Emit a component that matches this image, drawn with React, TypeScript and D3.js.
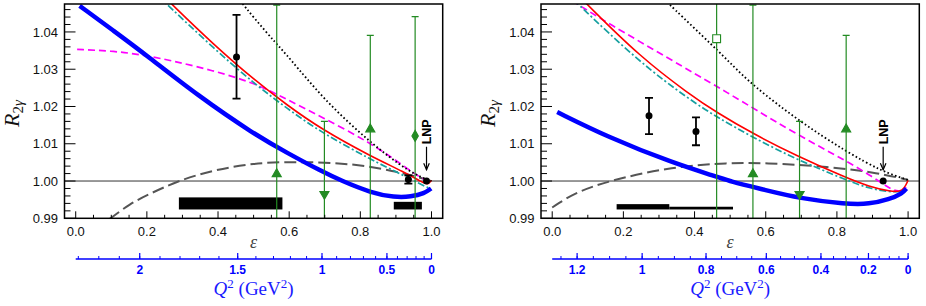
import React from 'react'
import * as d3 from 'd3'

type Pt = [number, number]
type Marker = 'up' | 'down' | 'diamond' | 'square'

const W = 926
const H = 306
const TOP = 4
const BOTTOM = 218.3
const Q2_AXIS_Y = 259

// axes
const epsRange: [number, number] = [-0.0315, 1.0315]
const rRange: [number, number] = [0.99, 1.0475]
const epsTicks = [0, 0.2, 0.4, 0.6, 0.8, 1.0]
const epsTickLabels = ['0.0', '0.2', '0.4', '0.6', '0.8', '1.0']
const rTicks = [0.99, 1.0, 1.01, 1.02, 1.03, 1.04]
const rTickLabels = ['0.99', '1.00', '1.01', '1.02', '1.03', '1.04']

// Q2 axis: beam energy (GeV) fixes eps <-> Q2
const leftBeamE = 1.595
const rightBeamE = 1.0
const leftQ2Ticks = [0, 0.5, 1, 1.5, 2]
const leftQ2Labels = ['0', '0.5', '1', '1.5', '2']
const rightQ2Ticks = [0, 0.2, 0.4, 0.6, 0.8, 1, 1.2]
const rightQ2Labels = ['0', '0.2', '0.4', '0.6', '0.8', '1', '1.2']

// ---- left panel curves [eps, R] ----
const leftBlue: Pt[] = [
  [0.011, 1.047], [0.107, 1.0403], [0.201, 1.0336], [0.342, 1.023], [0.501, 1.0126],
  [0.595, 1.0075], [0.689, 1.0027], [0.746, 1.0001], [0.83, 0.99685], [0.896, 0.9956],
  [0.943, 0.99577], [0.98, 0.99668], [0.999, 0.998],
]
const leftMagenta: Pt[] = [
  [0.004, 1.0353], [0.107, 1.0349], [0.201, 1.0337], [0.342, 1.0308], [0.501, 1.0265],
  [0.595, 1.0218], [0.689, 1.0173], [0.83, 1.0102], [0.924, 1.0039], [0.971, 1.0007],
  [0.995, 1.0],
]
const leftRed: Pt[] = [
  [0.245, 1.0499], [0.267, 1.0477], [0.389, 1.0365], [0.501, 1.0272], [0.595, 1.0203],
  [0.689, 1.014], [0.83, 1.0066], [0.924, 1.0024], [0.975, 0.9996], [0.99, 0.999],
  [1.0, 1.0002],
]
const leftCyan: Pt[] = [
  [0.232, 1.0497], [0.253, 1.0477], [0.389, 1.0355], [0.501, 1.0262], [0.595, 1.0194],
  [0.689, 1.0131], [0.83, 1.0057], [0.924, 1.0014], [0.98, 0.9986], [0.993, 0.9981],
]
const leftDotted: Pt[] = [
  [0.455, 1.0492], [0.501, 1.0438], [0.565, 1.0367], [0.595, 1.0337], [0.697, 1.0219],
  [0.825, 1.0105], [0.941, 1.0021], [1.0, 1.0],
]
const leftGray: Pt[] = [
  [0.095, 0.9898], [0.154, 0.994], [0.201, 0.99623], [0.285, 1.0], [0.389, 1.003],
  [0.501, 1.0048], [0.603, 1.0052], [0.783, 1.0048], [0.924, 1.0021], [0.99, 1.0003],
]

// ---- right panel curves [eps, R] ----
const rightBlue: Pt[] = [
  [0.014, 1.0185], [0.154, 1.0119], [0.34, 1.0048], [0.462, 1.0012], [0.499, 0.9999],
  [0.592, 0.99776], [0.695, 0.99534], [0.826, 0.9938], [0.891, 0.9938], [0.947, 0.99507],
  [0.984, 0.99668], [0.995, 0.998],
]
const rightMagenta: Pt[] = [
  [0.055, 1.0484], [0.067, 1.0477], [0.154, 1.0425], [0.34, 1.0322], [0.462, 1.0254],
  [0.499, 1.0233], [0.564, 1.0196], [0.686, 1.0126], [0.826, 1.0054], [0.9, 1.0012],
  [0.956, 0.99739], [0.98, 0.9972], [0.995, 0.9983],
]
const rightRed: Pt[] = [
  [0.085, 1.0487], [0.095, 1.0477], [0.247, 1.0333], [0.387, 1.0232], [0.462, 1.0184],
  [0.564, 1.0127], [0.686, 1.0068], [0.826, 1.0009], [0.891, 0.9985], [0.95, 0.9972],
  [0.985, 0.997], [1.0, 1.0002],
]
const rightCyan: Pt[] = [
  [0.06, 1.0486], [0.07, 1.0477], [0.247, 1.0317], [0.387, 1.0218], [0.462, 1.0172],
  [0.564, 1.0117], [0.686, 1.0058], [0.826, 1.0003], [0.891, 0.9979], [0.966, 0.99685],
  [0.993, 0.9975],
]
const rightDotted: Pt[] = [
  [0.315, 1.0487], [0.326, 1.0477], [0.462, 1.0353], [0.499, 1.0318], [0.564, 1.0256],
  [0.695, 1.016], [0.826, 1.0079], [0.928, 1.0025], [1.0, 1.0003],
]
const rightGray: Pt[] = [
  [0.0, 0.9929], [0.06, 0.99668], [0.154, 1.0], [0.34, 1.0039], [0.499, 1.0049],
  [0.592, 1.0049], [0.779, 1.0039], [0.919, 1.0021], [1.0, 1.0003],
]

// ---- data points ----
const leftBlack = [
  { eps: 0.452, r: 1.0333, lo: 1.0221, hi: 1.0446 },
  { eps: 0.935, r: 1.0004, lo: 0.9993, hi: 1.0015 },
]
const leftLnp = { eps: 0.986, r: 1.0 }
const rightBlack = [
  { eps: 0.272, r: 1.0175, lo: 1.0126, hi: 1.0223 },
  { eps: 0.404, r: 1.0133, lo: 1.0096, hi: 1.0171 },
]
const rightLnp = { eps: 0.93, r: 1.0 }

const leftGreen: { eps: number; r: number; err: number; m: Marker }[] = [
  { eps: 0.565, r: 1.0019, err: 0.0453, m: 'up' },
  { eps: 0.699, r: 0.9965, err: 0.0195, m: 'down' },
  { eps: 0.828, r: 1.0139, err: 0.0252, m: 'up' },
  { eps: 0.954, r: 1.0121, err: 0.032, m: 'diamond' },
]
const rightGreen: { eps: number; r: number; err: number; m: Marker }[] = [
  { eps: 0.462, r: 1.0382, err: 0.06, m: 'square' },
  { eps: 0.564, r: 1.0019, err: 0.0453, m: 'up' },
  { eps: 0.695, r: 0.9965, err: 0.0195, m: 'down' },
  { eps: 0.826, r: 1.0139, err: 0.0252, m: 'up' },
]

// systematic boxes
const leftSys = [
  { e0: 0.29, e1: 0.581, r0: 0.99237, r1: 0.99561 },
  { e0: 0.894, e1: 0.973, r0: 0.99237, r1: 0.99442 },
]
const rightSys = [
  { e0: 0.181, e1: 0.329, r0: 0.99237, r1: 0.9938 },
  { e0: 0.329, e1: 0.508, r0: 0.99237, r1: 0.9931 },
]

const styles: Record<string, { stroke: string; width: number; dash?: string }> = {
  gray: { stroke: '#555', width: 2, dash: '12 5' },
  magenta: { stroke: '#ff00ff', width: 1.7, dash: '7 4' },
  cyan: { stroke: '#17a0a0', width: 1.7, dash: '7 2.5 2 2.5' },
  red: { stroke: '#ff0000', width: 1.6 },
  dotted: { stroke: '#000', width: 1.8, dash: '1.6 2.4' },
  blue: { stroke: '#0000ff', width: 4.5 },
}

const GREEN = '#238b23'
const BLUE = '#0000ff'
const SANS = '"Liberation Sans", Arial, sans-serif'
const SERIF = '"Liberation Serif", "Times New Roman", serif'
const M_P = 0.938272

// eps for a given Q2 at fixed beam energy
function epsOf(q2: number, E: number) {
  if (q2 <= 0) return 1
  const Ep = E - q2 / (2 * M_P)
  const s2 = q2 / (4 * E * Ep)
  if (Ep <= 0 || s2 >= 1) return NaN
  const t2 = s2 / (1 - s2)
  const tau = q2 / (4 * M_P * M_P)
  return 1 / (1 + 2 * (1 + tau) * t2)
}

function Panel(props: any) {
  const { id, x0, x1, beamE, q2Ticks, q2Labels, q2Max, q2Step, curves, black, lnp, green, sys } = props
  const x = d3.scaleLinear().domain(epsRange).range([x0, x1])
  const y = d3.scaleLinear().domain(rRange).range([BOTTOM, TOP])
  const line = d3.line<Pt>().x(d => x(d[0])).y(d => y(d[1])).curve(d3.curveBasis)

  const rMinor = d3.range(0.99, 1.0475, 0.002).filter(v => !rTicks.some(t => Math.abs(t - v) < 1e-6))
  const epsMinor = d3.range(0, 1.0001, 0.05).filter(v => !epsTicks.some(t => Math.abs(t - v) < 1e-6))
  const q2Minor = d3.range(0, q2Max + 1e-6, q2Step).map(q => epsOf(q, beamE)).filter(e => !isNaN(e) && e >= 0)

  const sym = (m: Marker) => {
    if (m === 'diamond') return d3.symbol().type(d3.symbolDiamond).size(36)()
    if (m === 'square') return d3.symbol().type(d3.symbolSquare).size(62)()
    return d3.symbol().type(d3.symbolTriangle).size(36)()
  }

  const lnpX = x(lnp.eps)
  const arrowTop = y(1.0092)
  const arrowBot = y(1.003)
  const labelX = x0 - 46
  const midY = 113.5

  return (
    <g>
      <defs>
        <clipPath id={id}>
          <rect x={x0} y={TOP} width={x1 - x0} height={BOTTOM - TOP} />
        </clipPath>
      </defs>
      <g clipPath={`url(#${id})`}>
        <line x1={x0} x2={x1} y1={y(1)} y2={y(1)} stroke="#333" strokeWidth={1} />
        {sys.map((b: any, i: number) => (
          <rect key={i} x={x(b.e0)} y={y(b.r1)} width={x(b.e1) - x(b.e0)} height={y(b.r0) - y(b.r1)} fill="#000" />
        ))}
        {curves.map((c: any) => {
          const s = styles[c.style]
          return (
            <path key={c.style} d={line(c.data) || ''} fill="none" stroke={s.stroke}
              strokeWidth={s.width} strokeDasharray={s.dash} />
          )
        })}
        {green.map((g: any, i: number) => {
          const gx = x(g.eps)
          const yt = y(g.r + g.err)
          const yb = y(g.r - g.err)
          return (
            <g key={i}>
              <line x1={gx} x2={gx} y1={yt} y2={yb} stroke={GREEN} strokeWidth={1.2} />
              <line x1={gx - 3.5} x2={gx + 3.5} y1={yt} y2={yt} stroke={GREEN} strokeWidth={1.2} />
              <line x1={gx - 3.5} x2={gx + 3.5} y1={yb} y2={yb} stroke={GREEN} strokeWidth={1.2} />
              <path d={sym(g.m) || ''}
                transform={`translate(${gx},${y(g.r)})${g.m === 'down' ? ' rotate(180)' : ''}`}
                fill={g.m === 'square' ? '#fff' : GREEN} stroke={GREEN} strokeWidth={1.1} />
            </g>
          )
        })}
        {black.map((p: any, i: number) => {
          const px = x(p.eps)
          return (
            <g key={i} stroke="#000" strokeWidth={1.8}>
              <line x1={px} x2={px} y1={y(p.hi)} y2={y(p.lo)} />
              <line x1={px - 4} x2={px + 4} y1={y(p.hi)} y2={y(p.hi)} />
              <line x1={px - 4} x2={px + 4} y1={y(p.lo)} y2={y(p.lo)} />
              <circle cx={px} cy={y(p.r)} r={3.5} fill="#000" stroke="none" />
            </g>
          )
        })}
        <circle cx={lnpX} cy={y(lnp.r)} r={3.5} fill="#000" />
      </g>

      {/* LNP annotation */}
      <line x1={lnpX} x2={lnpX} y1={arrowTop} y2={arrowBot} stroke="#000" strokeWidth={1.2} />
      <path d={`M${lnpX - 2.8},${arrowBot - 6.5} L${lnpX},${arrowBot} L${lnpX + 2.8},${arrowBot - 6.5}`}
        fill="none" stroke="#000" strokeWidth={1.2} />
      <text x={lnpX + 4.5} y={y(1.0132)} transform={`rotate(-90,${lnpX + 4.5},${y(1.0132)})`}
        textAnchor="middle" fontFamily={SANS} fontWeight="bold" fontSize={12.5} fill="#000">LNP</text>

      {/* frame */}
      <rect x={x0} y={TOP} width={x1 - x0} height={BOTTOM - TOP} fill="none" stroke="#000" strokeWidth={1.5} />

      {/* y ticks */}
      {rTicks.map((t, i) => (
        <g key={i}>
          <line x1={x0} x2={x0 + 11} y1={y(t)} y2={y(t)} stroke="#000" strokeWidth={1} />
          <text x={x0 - 6.5} y={y(t)} dy="0.36em" textAnchor="end" fontFamily={SANS} fontSize={13} fill="#111">
            {rTickLabels[i]}
          </text>
        </g>
      ))}
      {rMinor.map((t, i) => (
        <line key={i} x1={x0} x2={x0 + 6} y1={y(t)} y2={y(t)} stroke="#000" strokeWidth={1} />
      ))}

      {/* x ticks */}
      {epsTicks.map((t, i) => (
        <g key={i}>
          <line x1={x(t)} x2={x(t)} y1={BOTTOM} y2={BOTTOM - 7} stroke="#000" strokeWidth={1} />
          <text x={x(t)} y={235.5} textAnchor="middle" fontFamily={SANS} fontSize={13} fill="#111">
            {epsTickLabels[i]}
          </text>
        </g>
      ))}
      {epsMinor.map((t, i) => (
        <line key={i} x1={x(t)} x2={x(t)} y1={BOTTOM} y2={BOTTOM - 3.5} stroke="#000" strokeWidth={1} />
      ))}
      <text x={x(0.5)} y={248} textAnchor="middle" fontFamily={SERIF} fontStyle="italic" fontSize={18} fill="#444">ε</text>

      {/* y title */}
      <text x={labelX} y={midY} transform={`rotate(-90,${labelX},${midY})`} textAnchor="middle"
        fontFamily={SERIF} fontSize={22} fill="#111">
        <tspan fontStyle="italic">R</tspan>
        <tspan fontSize={15} dy={4}>2</tspan>
        <tspan fontSize={15} fontStyle="italic">γ</tspan>
      </text>

      {/* Q2 axis */}
      <line x1={x(0)} x2={x(1)} y1={Q2_AXIS_Y} y2={Q2_AXIS_Y} stroke={BLUE} strokeWidth={1.3} />
      {q2Minor.map((e: number, i: number) => (
        <line key={i} x1={x(e)} x2={x(e)} y1={Q2_AXIS_Y} y2={Q2_AXIS_Y - 3} stroke={BLUE} strokeWidth={1} />
      ))}
      {q2Ticks.map((q: number, i: number) => {
        const e = epsOf(q, beamE)
        return (
          <g key={i}>
            <line x1={x(e)} x2={x(e)} y1={Q2_AXIS_Y} y2={Q2_AXIS_Y - 6} stroke={BLUE} strokeWidth={1.2} />
            <text x={x(e)} y={273.5} textAnchor="middle" fontFamily={SANS} fontWeight="bold" fontSize={12} fill={BLUE}>
              {q2Labels[i]}
            </text>
          </g>
        )
      })}
      <text x={x(0.5)} y={295} textAnchor="middle" fontFamily={SERIF} fontSize={19} fill="#1a1aff">
        <tspan fontStyle="italic">Q</tspan>
        <tspan fontSize={13} dy={-7}>2</tspan>
        <tspan dy={7}>{'\u00a0(GeV'}</tspan>
        <tspan fontSize={13} dy={-7}>2</tspan>
        <tspan dy={7}>)</tspan>
      </text>
    </g>
  )
}

export default function App() {
  const leftCurves = [
    { style: 'gray', data: leftGray },
    { style: 'magenta', data: leftMagenta },
    { style: 'cyan', data: leftCyan },
    { style: 'red', data: leftRed },
    { style: 'dotted', data: leftDotted },
    { style: 'blue', data: leftBlue },
  ]
  const rightCurves = [
    { style: 'gray', data: rightGray },
    { style: 'magenta', data: rightMagenta },
    { style: 'cyan', data: rightCyan },
    { style: 'red', data: rightRed },
    { style: 'dotted', data: rightDotted },
    { style: 'blue', data: rightBlue },
  ]
  return (
    <svg width={W} height={H} style={{ position: 'absolute', left: 0, top: 0, background: '#fff' }}>
      <Panel id="clipL" x0={64.5} x1={442.7} beamE={leftBeamE} q2Ticks={leftQ2Ticks} q2Labels={leftQ2Labels}
        q2Max={2.3} q2Step={0.1} curves={leftCurves} black={leftBlack} lnp={leftLnp} green={leftGreen} sys={leftSys} />
      <Panel id="clipR" x0={541} x1={919.3} beamE={rightBeamE} q2Ticks={rightQ2Ticks} q2Labels={rightQ2Labels}
        q2Max={1.25} q2Step={0.05} curves={rightCurves} black={rightBlack} lnp={rightLnp} green={rightGreen} sys={rightSys} />
    </svg>
  )
}
